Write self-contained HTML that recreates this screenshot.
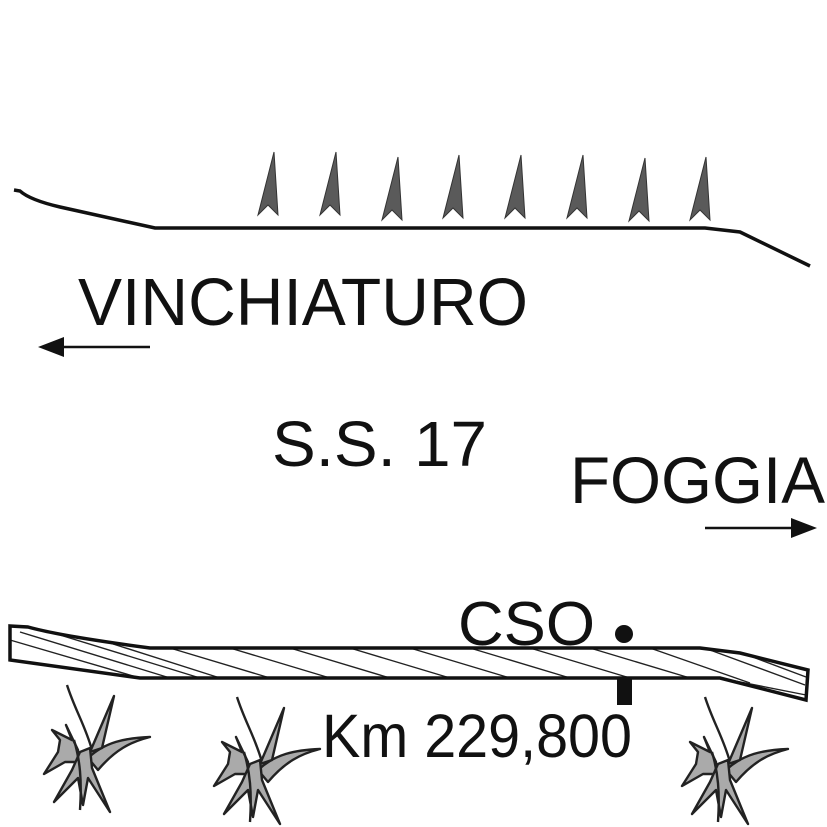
<!DOCTYPE html>
<html><head><meta charset="utf-8"><style>
html,body{margin:0;padding:0;background:#fff;}
svg{display:block;}
text{font-family:"Liberation Sans",sans-serif;fill:#111;}
</style></head><body>
<svg width="827" height="827" viewBox="0 0 827 827" xmlns="http://www.w3.org/2000/svg">
<defs>
<g id="sp"><path d="M0,0 L-16,63 L-6,53 L4,63 Z" fill="#5a5a5a" stroke="#333" stroke-width="1"/></g>
<g id="gr" stroke="#222" stroke-width="2.4" stroke-linejoin="round" fill="#aaa">
<path d="M37,5 C45,30 55,45 62,70" fill="none"/>
<path d="M58,78 C75,62 95,58 120,57 C100,62 85,70 68,90 Z"/>
<path d="M60,72 L84,16 L72,68 Z"/>
<path d="M48,70 L36,45 L42,60 L22,50 L30,60 L28,72 L14,94 L35,82 L48,82 Z"/>
<path d="M50,72 L60,68 L62,88 L80,132 L58,98 L53,125 L48,98 L24,122 L42,90 Z"/>
<path d="M44,60 C50,80 52,100 50,130" fill="none"/>
</g>
</defs>
<path d="M14,190 L20,191 Q30,200 60,207 L155,228 L705,228 L740,232 L810,266" fill="none" stroke="#111" stroke-width="3.5"/>
<use href="#sp" x="274" y="152"/>
<use href="#sp" x="336" y="152"/>
<use href="#sp" x="398" y="157"/>
<use href="#sp" x="459" y="155"/>
<use href="#sp" x="521" y="155"/>
<use href="#sp" x="583" y="155"/>
<use href="#sp" x="645" y="158"/>
<use href="#sp" x="706" y="157"/>
<text x="78" y="325" font-size="67" textLength="450" lengthAdjust="spacingAndGlyphs">VINCHIATURO</text>
<line x1="58" y1="347" x2="150" y2="347" stroke="#111" stroke-width="2.5"/>
<path d="M38,347 L64,337 L64,357 Z" fill="#111"/>
<text x="272" y="466" font-size="64" textLength="215" lengthAdjust="spacingAndGlyphs">S.S. 17</text>
<text x="570" y="503" font-size="66" textLength="255" lengthAdjust="spacingAndGlyphs">FOGGIA</text>
<line x1="705" y1="528" x2="795" y2="528" stroke="#111" stroke-width="2.5"/>
<path d="M817,528 L791,518 L791,538 Z" fill="#111"/>
<g stroke="#222" stroke-width="1.4">
<line x1="10" y1="640" x2="140" y2="678"/><line x1="20" y1="632" x2="170" y2="678"/>
<line x1="60" y1="635" x2="200" y2="678"/><line x1="110" y1="643" x2="220" y2="678"/>
<line x1="170" y1="648" x2="270" y2="678"/><line x1="230" y1="648" x2="330" y2="678"/>
<line x1="290" y1="648" x2="390" y2="678"/><line x1="350" y1="648" x2="450" y2="678"/>
<line x1="410" y1="648" x2="510" y2="678"/><line x1="470" y1="648" x2="570" y2="678"/>
<line x1="530" y1="648" x2="630" y2="678"/><line x1="590" y1="648" x2="690" y2="678"/>
<line x1="650" y1="648" x2="750" y2="683"/><line x1="710" y1="650" x2="805" y2="685"/>
<line x1="750" y1="656" x2="806" y2="677"/><line x1="720" y1="678" x2="806" y2="695"/>
</g>
<path d="M10,626 L28,627 Q60,636 150,648 L700,648 L740,653 L808,670 L806,700 L720,678 L140,678 L10,660 Z" fill="none" stroke="#111" stroke-width="3.5"/>
<text x="458" y="645" font-size="62" textLength="137" lengthAdjust="spacingAndGlyphs">CSO</text>
<circle cx="624" cy="634" r="9" fill="#111"/>
<rect x="617" y="678" width="15" height="27" fill="#111"/>
<text x="322" y="757" font-size="61" textLength="310" lengthAdjust="spacingAndGlyphs">Km 229,800</text>
<use href="#gr" x="30" y="680"/>
<use href="#gr" x="200" y="692"/>
<use href="#gr" x="668" y="692"/>
</svg>
</body></html>
